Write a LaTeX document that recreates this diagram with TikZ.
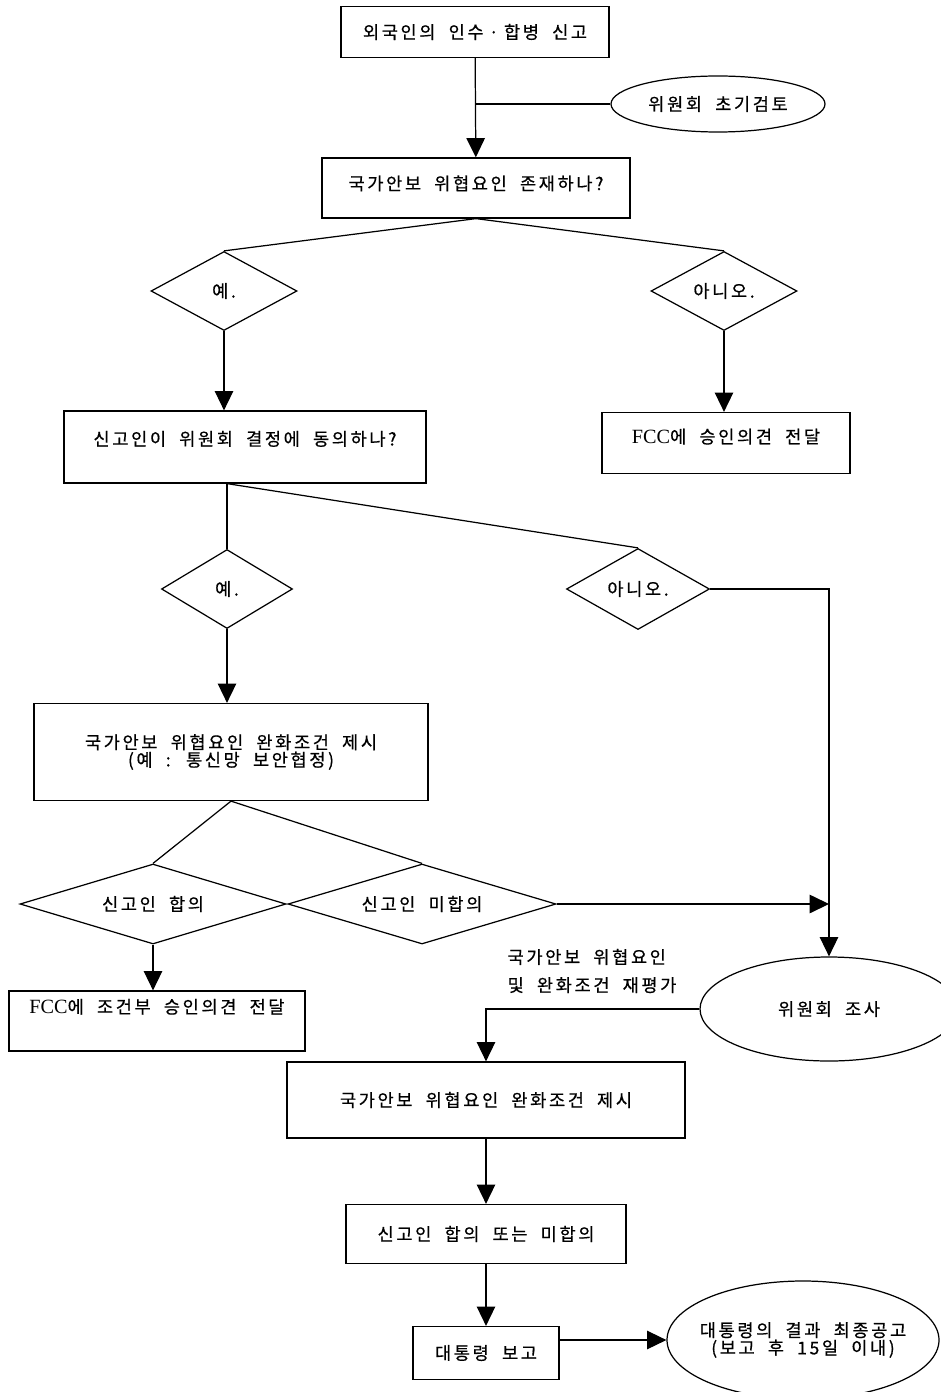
\documentclass[tikz,border=0pt]{standalone}
\usepackage{fontspec}
\setmainfont[LetterSpace=15,WordSpace=2,FakeBold=0.6]{Noto Sans CJK KR}
\newfontfamily\latinserif[Scale=1.15]{Liberation Serif}
\usetikzlibrary{arrows.meta,shapes.geometric}

\begin{document}
\begin{tikzpicture}[x=0.02cm,y=-0.02cm,
  wh/.style 2 args={minimum width=#1*0.02cm,minimum height=#2*0.02cm},
  box/.style={draw,rectangle,inner sep=0pt},
  choice/.style={draw,diamond,aspect=2,inner sep=0pt},
  oval/.style={draw,ellipse,inner sep=0pt},
  arr/.style={-{Triangle[length=11pt,width=10.5pt]}},
  lifted/.style={text depth=#1},
  line width=0.7pt, font=\fontsize{10}{12}\selectfont]
  \useasboundingbox (0,0) rectangle (940,1392);

  % top part
  \node[box,wh={268}{51}] (notice) at (475,32) {외국인의 인수\hspace{3pt}·\hspace{3pt}합병 신고};
  \node[oval,wh={214}{56}] (review) at (718,104) {위원회 초기검토};
  \node[box,wh={308}{60},lifted=6pt] (threat) at (476,188) {국가안보 위협요인 존재하나?};
  \node[choice,wh={146}{79}] (yes1) at (224,291) {예.};
  \node[choice,wh={146}{79}] (no1) at (724,291) {아니오.};
  \node[box,wh={362}{72},lifted=10pt] (agree) at (245,447) {신고인이 위원회 결정에 동의하나?};
  \node[box,wh={248}{61},lifted=8pt] (approve) at (726,443) {{\latinserif FCC}에 승인의견 전달};

  % second decision
  \node[choice,wh={131}{79}] (yes2) at (227,589) {예.};
  \node[choice,wh={143}{81}] (no2) at (638,589) {아니오.};
  \node[box,wh={394}{97},align=center] (mitig) at (231,752) {국가안보 위협요인 완화조건 제시\\[-2pt](예 : 통신망 보안협정)};
  \node[choice,wh={266}{80}] (accept) at (153,904) {신고인 합의};
  \node[choice,wh={268}{80}] (refuse) at (422,904) {신고인 미합의};
  \node[box,wh={296}{60},lifted=17pt] (condok) at (157,1021) {{\latinserif FCC}에 조건부 승인의견 전달};

  % investigation
  \node[oval,wh={258}{104}] (probe) at (829,1009) {위원회 조사};
  \node[align=left] (reeval) at (592,971) {국가안보 위협요인\\[4pt]및 완화조건 재평가};
  \node[box,wh={398}{76}] (remedy) at (486,1100) {국가안보 위협요인 완화조건 제시};
  \node[box,wh={280}{59}] (outcome) at (486,1234) {신고인 합의 또는 미합의};
  \node[box,wh={146}{53}] (report) at (486,1353) {대통령 보고};
  \node[oval,wh={272}{118},inner xsep=-5pt,align=center] (final) at (803,1340) {대통령의 결과 최종공고\\[-2pt](보고 후 15일 이내)};

  % connectors
  \draw[arr] (notice) -- (threat);
  \draw (review) -- (review.west -| notice.south);
  \draw (threat.south) -- (yes1.north);
  \draw (threat.south) -- (no1.north);
  \draw[arr] (yes1) -- (yes1 |- agree.north);
  \draw[arr] (no1) -- (no1 |- approve.north);
  \coordinate (fork) at (agree.south -| yes2.north);
  \draw (fork) -- (yes2);
  \draw (fork) -- (no2.north);
  \draw[arr] (yes2) -- (yes2 |- mitig.north);
  \draw[arr] (no2.east) -| (probe.north);
  \draw (mitig.south) -- (accept.north);
  \draw (mitig.south) -- (refuse.north);
  \draw[arr] (accept) -- (accept |- condok.north);
  \draw[arr] (refuse.east) -- (refuse.east -| probe.north);
  \draw[arr] (probe.west) -| (remedy.north);
  \draw[arr] (remedy) -- (outcome);
  \draw[arr] (outcome) -- (report);
  \draw[arr] (report.east |- final.west) -- (final.west);
\end{tikzpicture}
\end{document}
